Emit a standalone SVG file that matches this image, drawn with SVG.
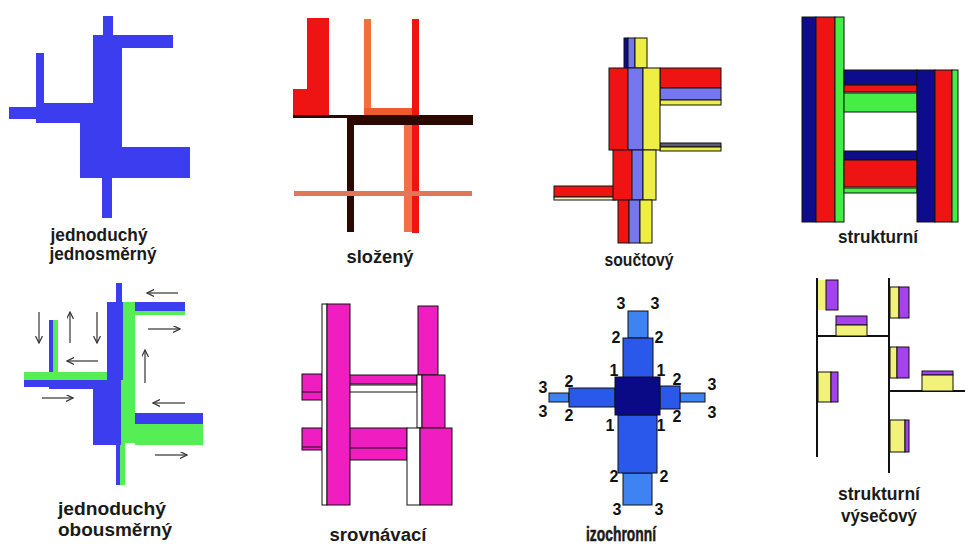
<svg xmlns="http://www.w3.org/2000/svg" width="965" height="545" viewBox="0 0 965 545">
<style>
.lbl{font-family:"Liberation Sans",Arial,sans-serif;font-weight:bold;font-size:18px;fill:#1a1a1a;text-anchor:middle}
.num{font-family:"Liberation Sans",Arial,sans-serif;font-weight:bold;font-size:16px;fill:#111;text-anchor:middle}
.ol{stroke:#111;stroke-width:1}
.b1{fill:#3d3df0}
.g1{fill:#55ee55}
.rd{fill:#ee1414}
.pw{fill:#7676ee}
.yl{fill:#eeee44}
.nv{fill:#0c0c8c}
.gr{fill:#44ee44}
.mg{fill:#f01ec0}
.wh{fill:#fff}
.lb{fill:#3f82f2}
.mb{fill:#2a58ea}
.db{fill:#0a0a86}
.y8{fill:#f2f27a}
.p8{fill:#a442f0}
.ln{stroke:#111;stroke-width:2}
.arr{stroke:#333;stroke-width:1.2;fill:none;marker-end:url(#ah)}
</style>
<defs>
<marker id="ah" markerWidth="8" markerHeight="8" refX="7" refY="3.5" orient="auto" markerUnits="userSpaceOnUse">
<path d="M0,0 L7,3.5 L0,7" fill="none" stroke="#333" stroke-width="1.2"/>
</marker>
</defs>
<rect width="965" height="545" fill="#fff"/>

<g id="panel1">
<polygon class="b1" points="103,16 113,16 113,35 173,35 173,48 122,48 122,147 190,147 190,178 112,178 112,218 102,218 102,178 80,178 80,123 36,123 36,119 9,119 9,107 36,107 36,53 44,53 44,103 93,103 93,35 103,35"/>
<text class="lbl" x="99" y="241" textLength="97" lengthAdjust="spacingAndGlyphs">jednoduchý</text>
<text class="lbl" x="103" y="260" textLength="107" lengthAdjust="spacingAndGlyphs">jednosměrný</text>
</g>

<g id="panel2">
<polygon class="rd" points="307,18 329,18 329,117 293,117 293,89 307,89"/>
<rect x="364" y="19" width="7" height="91" fill="#f07040"/>
<rect x="364" y="108" width="49" height="8" fill="#f05a30"/>
<rect x="412" y="19" width="7" height="214" class="rd"/>
<rect x="404" y="125" width="8" height="107" fill="#f07048"/>
<rect x="293" y="115" width="57" height="3" fill="#2b0800"/>
<rect x="350" y="115" width="123" height="10" fill="#2b0800"/>
<rect x="347" y="117" width="7" height="115" fill="#2b0800"/>
<rect x="294" y="191" width="178" height="5" fill="#e07858"/>
<text class="lbl" x="380" y="263" textLength="67" lengthAdjust="spacingAndGlyphs">složený</text>
</g>

<g id="panel3">
<rect x="624" y="38" width="4" height="30" class="nv ol"/>
<rect x="628" y="38" width="7" height="30" class="pw ol"/>
<rect x="635" y="38" width="12" height="30" class="yl ol"/>
<rect x="660" y="68" width="61" height="20" class="rd ol"/>
<rect x="660" y="88" width="61" height="12" class="pw ol"/>
<rect x="660" y="100" width="61" height="5" class="yl ol"/>
<rect x="660" y="143" width="61" height="4" fill="#5a5a70" class="ol"/>
<rect x="660" y="147" width="61" height="4" class="yl ol"/>
<rect x="609" y="68" width="19" height="82" class="rd ol"/>
<rect x="628" y="68" width="15" height="82" class="pw ol"/>
<rect x="643" y="68" width="17" height="82" class="yl ol"/>
<rect x="554" y="186" width="62" height="11" class="rd ol"/>
<rect x="554" y="197" width="62" height="3" fill="#f4f4c0" class="ol"/>
<rect x="613" y="150" width="19" height="50" class="rd ol"/>
<rect x="632" y="150" width="11" height="50" class="pw ol"/>
<rect x="643" y="150" width="13" height="50" class="yl ol"/>
<rect x="618" y="200" width="11" height="43" class="rd ol"/>
<rect x="629" y="200" width="11" height="43" class="pw ol"/>
<rect x="640" y="200" width="12" height="43" class="yl ol"/>
<text class="lbl" x="639" y="266" textLength="69" lengthAdjust="spacingAndGlyphs">součtový</text>
</g>

<g id="panel4">
<rect x="802" y="17" width="14" height="205" class="nv ol"/>
<rect x="816" y="17" width="19" height="205" class="rd ol"/>
<rect x="835" y="17" width="9" height="205" class="gr ol"/>
<rect x="844" y="70" width="73" height="15" class="nv ol"/>
<rect x="844" y="85" width="73" height="7" class="rd ol"/>
<rect x="844" y="93" width="73" height="19" class="gr ol"/>
<rect x="844" y="151" width="73" height="9" class="nv ol"/>
<rect x="844" y="160" width="73" height="27" class="rd ol"/>
<rect x="844" y="188" width="73" height="5" class="gr ol"/>
<rect x="917" y="70" width="18" height="152" class="nv ol"/>
<rect x="935" y="70" width="17" height="152" class="rd ol"/>
<rect x="952" y="70" width="6" height="152" class="gr ol"/>
<text class="lbl" x="878" y="243" textLength="80" lengthAdjust="spacingAndGlyphs">strukturní</text>
</g>

<g id="panel5">
<rect x="121" y="302" width="14" height="141" class="g1"/>
<rect x="135" y="424" width="68" height="21" class="g1"/>
<rect x="120" y="443" width="5" height="42" class="g1"/>
<rect x="135" y="311" width="50" height="4" class="g1"/>
<rect x="107" y="302" width="16" height="78" class="b1"/>
<rect x="116" y="283" width="6" height="20" class="b1"/>
<rect x="93" y="380" width="28" height="65" class="b1"/>
<rect x="116" y="443" width="4" height="42" class="b1"/>
<rect x="135" y="302" width="50" height="9" class="b1"/>
<rect x="135" y="413" width="68" height="11" class="b1"/>
<rect x="53" y="320" width="5" height="52" class="g1"/>
<rect x="49" y="320" width="4" height="52" class="b1"/>
<rect x="24" y="372" width="83" height="8" class="g1"/>
<rect x="24" y="380" width="69" height="7" class="b1"/>
<rect x="49" y="387" width="44" height="2" class="b1"/>
<text class="lbl" x="112" y="515" textLength="108" lengthAdjust="spacingAndGlyphs">jednoduchý</text>
<text class="lbl" x="115" y="536" textLength="114" lengthAdjust="spacingAndGlyphs">obousměrný</text>
</g>

<g id="arrows">
<line class="arr" x1="178" y1="293" x2="147" y2="293"/>
<line class="arr" x1="148" y1="329" x2="180" y2="329"/>
<line class="arr" x1="39" y1="312" x2="39" y2="343"/>
<line class="arr" x1="70" y1="343" x2="70" y2="312"/>
<line class="arr" x1="97" y1="312" x2="97" y2="343"/>
<line class="arr" x1="98" y1="361" x2="67" y2="361"/>
<line class="arr" x1="145" y1="383" x2="145" y2="350"/>
<line class="arr" x1="42" y1="398" x2="73" y2="398"/>
<line class="arr" x1="185" y1="403" x2="153" y2="403"/>
<line class="arr" x1="155" y1="455" x2="187" y2="455"/>
</g>

<g id="panel6">
<rect x="302" y="374" width="20" height="26" class="mg ol"/>
<line x1="302" y1="392" x2="322" y2="392" class="ol"/>
<rect x="302" y="428" width="20" height="22" class="mg ol"/>
<line x1="302" y1="447" x2="322" y2="447" class="ol"/>
<rect x="322" y="304" width="5" height="201" class="wh ol"/>
<rect x="327" y="304" width="23" height="201" class="mg ol"/>
<rect x="350" y="375" width="67" height="9" class="mg ol"/>
<rect x="350" y="385" width="67" height="7" class="wh ol"/>
<rect x="418" y="306" width="20" height="69" class="mg ol"/>
<rect x="417" y="375" width="5" height="53" class="wh ol"/>
<rect x="422" y="375" width="23" height="53" class="mg ol"/>
<rect x="350" y="428" width="57" height="32" class="mg ol"/>
<line x1="350" y1="448" x2="407" y2="448" class="ol"/>
<rect x="407" y="428" width="13" height="77" class="wh ol"/>
<rect x="420" y="428" width="32" height="77" class="mg ol"/>
<text class="lbl" x="378" y="541" textLength="97" lengthAdjust="spacingAndGlyphs">srovnávací</text>
</g>

<g id="panel7">
<rect x="628" y="311" width="20" height="27" class="lb ol"/>
<rect x="623" y="473" width="29" height="32" class="lb ol"/>
<rect x="549" y="393" width="20" height="9" class="lb ol"/>
<rect x="680" y="393" width="25" height="9" class="lb ol"/>
<rect x="623" y="338" width="30" height="40" class="mb ol"/>
<rect x="618" y="415" width="39" height="58" class="mb ol"/>
<rect x="569" y="388" width="46" height="19" class="mb ol"/>
<rect x="660" y="386" width="20" height="23" class="mb ol"/>
<rect x="615" y="377" width="45" height="38" class="db ol"/>
<text class="num" x="621" y="309">3</text>
<text class="num" x="655" y="309">3</text>
<text class="num" x="616" y="343">2</text>
<text class="num" x="659" y="343">2</text>
<text class="num" x="614" y="376">1</text>
<text class="num" x="661" y="376">1</text>
<text class="num" x="677" y="385">2</text>
<text class="num" x="712" y="390">3</text>
<text class="num" x="712" y="418">3</text>
<text class="num" x="677" y="422">2</text>
<text class="num" x="661" y="431">1</text>
<text class="num" x="610" y="431">1</text>
<text class="num" x="569" y="387">2</text>
<text class="num" x="569" y="421">2</text>
<text class="num" x="543" y="393">3</text>
<text class="num" x="543" y="417">3</text>
<text class="num" x="614" y="482">2</text>
<text class="num" x="664" y="482">2</text>
<text class="num" x="617" y="515">3</text>
<text class="num" x="659" y="515">3</text>
<text class="lbl" x="621" y="541" textLength="70" lengthAdjust="spacingAndGlyphs" style="font-size:20px;stroke:#1a1a1a;stroke-width:0.5">izochronní</text>
</g>

<g id="panel8">
<line class="ln" x1="817" y1="278" x2="817" y2="457"/>
<line class="ln" x1="817" y1="336" x2="889" y2="336"/>
<line class="ln" x1="889" y1="278" x2="889" y2="473"/>
<line class="ln" x1="889" y1="391" x2="965" y2="391"/>
<rect x="818" y="280" width="8" height="30" class="y8"/>
<rect x="826" y="280" width="12" height="30" class="p8 ol"/>
<rect x="836" y="316" width="31" height="9" class="p8 ol"/>
<rect x="836" y="325" width="31" height="11" class="y8 ol"/>
<rect x="818" y="372" width="13" height="30" class="y8 ol"/>
<rect x="831" y="372" width="7" height="30" class="p8 ol"/>
<rect x="890" y="287" width="9" height="31" class="y8 ol"/>
<rect x="899" y="287" width="10" height="31" class="p8 ol"/>
<rect x="890" y="347" width="7" height="31" class="y8 ol"/>
<rect x="897" y="347" width="12" height="31" class="p8 ol"/>
<rect x="922" y="371" width="31" height="4" class="p8 ol"/>
<rect x="922" y="375" width="31" height="16" class="y8 ol"/>
<rect x="890" y="420" width="15" height="32" class="y8 ol"/>
<rect x="905" y="420" width="4" height="32" class="p8 ol"/>
<text class="lbl" x="879" y="500" textLength="82" lengthAdjust="spacingAndGlyphs">strukturní</text>
<text class="lbl" x="879" y="522" textLength="76" lengthAdjust="spacingAndGlyphs">výsečový</text>
</g>
</svg>
